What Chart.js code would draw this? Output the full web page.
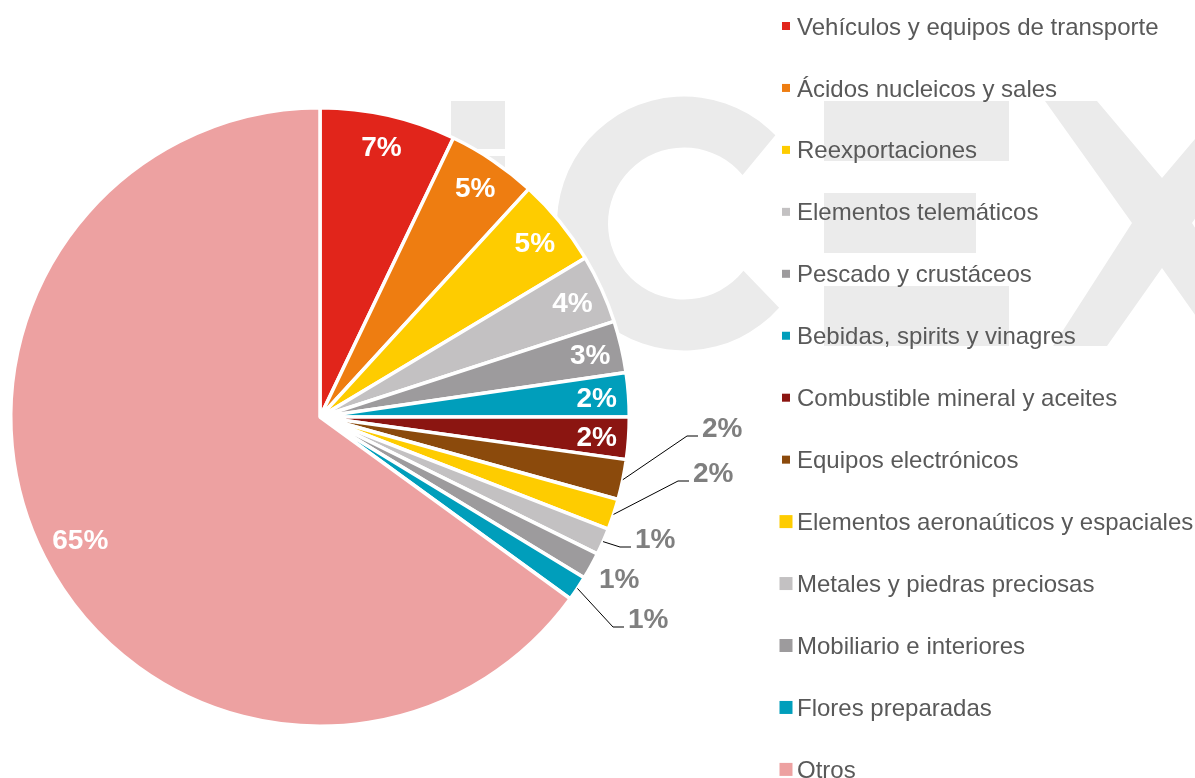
<!DOCTYPE html>
<html>
<head>
<meta charset="utf-8">
<script src="https://cdn.jsdelivr.net/npm/chart.js@4"></script>
<style>
  html, body { margin: 0; padding: 0; background: #fff; }
  #wrap { width: 1195px; height: 778px; }
</style>
</head>
<body>
<div id="wrap"><canvas id="pie" width="1195" height="778"></canvas></div>
<script>
// ── Data ──
const categories = [
    'Vehículos y equipos de transporte',
    'Ácidos nucleicos y sales',
    'Reexportaciones',
    'Elementos telemáticos',
    'Pescado y crustáceos',
    'Bebidas, spirits y vinagres',
    'Combustible mineral y aceites',
    'Equipos electrónicos',
    'Elementos aeronaúticos y espaciales',
    'Metales y piedras preciosas',
    'Mobiliario e interiores',
    'Flores preparadas',
    'Otros'
];
const shares = [7.1, 4.7, 4.6, 3.6, 2.7, 2.3, 2.2, 2.1, 1.6, 1.4, 1.4, 1.3, 65.0];
const colors = [
    '#E1251B', '#EE7D11', '#FECC00', '#C3C1C2', '#9D9B9D', '#009EBB', '#8B1511',
    '#8B4A0C', '#FECC00', '#C3C1C2', '#9D9B9D', '#009EBB', '#EDA1A1'
];

// ── Label / legend layout ──
const outsideSlices = [7, 8, 9, 10, 11];          // slices labelled outside the pie
const outsideDx = [382, 373, 315, 279, 308];       // label left, relative to pie centre
const outsideDy = [10, 55, 121, 161, 201];         // label middle, relative to pie centre
const outsideLeader = [true, true, true, false, true];
const legendMarker = [8, 8, 8, 8, 8, 8, 8, 8, 13, 13, 13, 13, 13];
const FONT = '"Liberation Sans", Arial, sans-serif';

// ── Watermark (ICEX logo in light gray) ──
const watermark = {
    id: 'watermark',
    beforeDatasetsDraw(chart) {
        const ctx = chart.ctx;
        const deg = Math.PI / 180;
        ctx.save();
        ctx.fillStyle = '#ebebeb';
        // i
        ctx.fillRect(451, 101, 54, 48);
        ctx.fillRect(451, 156, 54, 190);
        // C
        ctx.beginPath();
        ctx.arc(684, 223.5, 127, 41.5 * deg, 316 * deg);
        ctx.arc(684, 223.5, 76, 320.4 * deg, 38.5 * deg, true);
        ctx.closePath();
        ctx.fill();
        // E
        ctx.fillRect(824, 101, 185, 60);
        ctx.fillRect(824, 193, 152, 60);
        ctx.fillRect(824, 286, 185, 60);
        // X
        const pts = [[1045, 101], [1097, 101], [1162, 178], [1227, 101], [1279, 101], [1192, 223],
                     [1271, 346], [1217, 346], [1162, 268], [1107, 346], [1053, 346], [1132, 223]];
        ctx.beginPath();
        pts.forEach(([x, y], i) => i ? ctx.lineTo(x, y) : ctx.moveTo(x, y));
        ctx.closePath();
        ctx.fill();
        ctx.restore();
    }
};

// ── Percentage labels ──
const sliceLabels = {
    id: 'sliceLabels',
    afterDatasetsDraw(chart) {
        const ctx = chart.ctx;
        const arcs = chart.getDatasetMeta(0).data;
        const total = shares.reduce((s, v) => s + v, 0);
        const size = 28;
        ctx.save();
        ctx.font = 'bold ' + size + 'px ' + FONT;
        ctx.textBaseline = 'alphabetic';
        arcs.forEach((arc, i) => {
            const p = arc.getProps(['x', 'y', 'startAngle', 'endAngle', 'outerRadius'], true);
            const mid = (p.startAngle + p.endAngle) / 2;
            const text = Math.round(shares[i] / total * 100) + '%';
            const k = outsideSlices.indexOf(i);
            if (k < 0) {
                const r = p.outerRadius * (shares[i] > 50 ? 0.87 : 0.897);
                ctx.fillStyle = '#ffffff';
                ctx.textAlign = 'center';
                ctx.fillText(text, p.x + Math.cos(mid) * r, p.y + Math.sin(mid) * r + size * 0.358);
            } else {
                const lx = p.x + outsideDx[k];
                const cy = p.y + outsideDy[k];
                if (outsideLeader[k]) {
                    ctx.strokeStyle = '#000000';
                    ctx.lineWidth = 1;
                    ctx.beginPath();
                    ctx.moveTo(p.x + Math.cos(mid) * p.outerRadius, p.y + Math.sin(mid) * p.outerRadius);
                    ctx.lineTo(lx - 15, cy + 9);
                    ctx.lineTo(lx - 4, cy + 9);
                    ctx.stroke();
                }
                ctx.fillStyle = '#7f7f7f';
                ctx.textAlign = 'left';
                ctx.fillText(text, lx, cy + size * 0.358);
            }
        });
        ctx.restore();
    }
};

// ── Legend on the right ──
const sideLegend = {
    id: 'sideLegend',
    afterDraw(chart) {
        const ctx = chart.ctx;
        const size = 24;
        ctx.save();
        ctx.font = size + 'px ' + FONT;
        ctx.textAlign = 'left';
        ctx.textBaseline = 'alphabetic';
        categories.forEach((name, i) => {
            const y = 26 + i * 61.95;
            const s = legendMarker[i];
            ctx.fillStyle = colors[i];
            ctx.fillRect(786 - s / 2, y - s / 2, s, s);
            ctx.fillStyle = '#595959';
            ctx.fillText(name, 797, y + size * 0.358);
        });
        ctx.restore();
    }
};

new Chart(document.getElementById('pie'), {
    type: 'pie',
    data: {
        labels: categories,
        datasets: [{
            data: shares,
            backgroundColor: colors,
            borderColor: '#ffffff',
            borderWidth: 3.5
        }]
    },
    options: {
        responsive: false,
        animation: false,
        layout: { padding: { left: 9, top: 106, right: 564, bottom: 50 } },
        plugins: {
            legend: { display: false },
            tooltip: { enabled: false }
        }
    },
    plugins: [watermark, sliceLabels, sideLegend]
});
</script>
</body>
</html>
